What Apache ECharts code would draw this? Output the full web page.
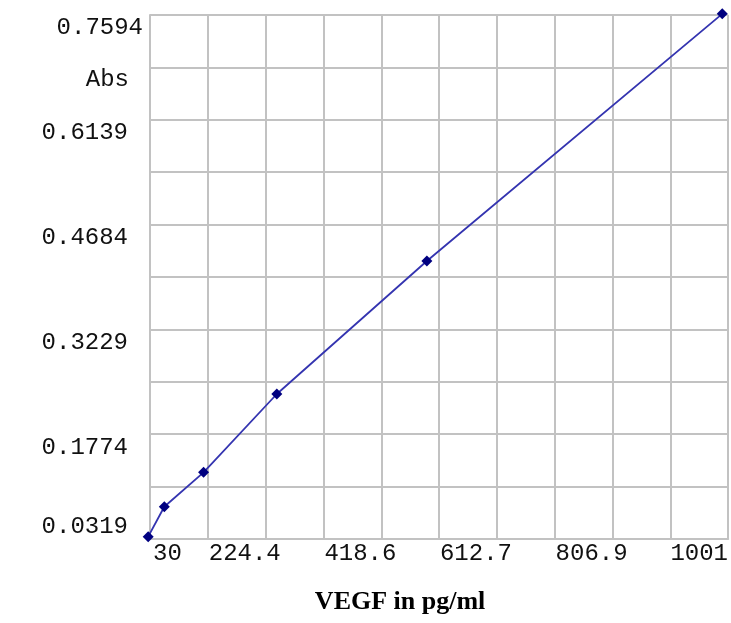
<!DOCTYPE html>
<html>
<head>
<meta charset="utf-8">
<script src="https://cdn.jsdelivr.net/npm/echarts@6/dist/echarts.min.js"></script>
<style>
html,body{margin:0;padding:0;background:#fff;}
#chart{width:731px;height:623px;}
</style>
</head>
<body>
<div id="chart"></div>
<script>
// Data
const concentrations = [27, 54, 120, 243, 495, 991];
const absorbances = [0.0351, 0.0767, 0.1245, 0.2332, 0.4179, 0.7610];

const xTickValues = [30, 224.4, 418.6, 612.7, 806.9, 1001];
const xTickLabels = ['30', '224.4', '418.6', '612.7', '806.9', '1001'];
const xGridValues = [30, 127.1, 224.4, 321.5, 418.6, 515.7, 612.7, 709.8, 806.9, 903.9, 1001];

const yTickValues = [0.0319, 0.1774, 0.3229, 0.4684, 0.6139, 0.7594];
const yTickLabels = ['0.0319', '0.1774', '0.3229', '0.4684', '0.6139', '0.7594'];
const yGridValues = [0.0319, 0.10465, 0.1774, 0.25015, 0.3229, 0.39565, 0.4684, 0.54115, 0.6139, 0.68665, 0.7594];

const xName = 'VEGF in pg/ml';
const yName = 'Abs';

function nearestIndex(arr, v) {
  let best = 0;
  for (let i = 1; i < arr.length; i++) {
    if (Math.abs(arr[i] - v) < Math.abs(arr[best] - v)) best = i;
  }
  return best;
}

const monoFont = '"Liberation Mono", "DejaVu Sans Mono", monospace';
const gridColor = '#c2c2c2';
const labelColor = '#111111';

const chart = echarts.init(document.getElementById('chart'), null, {renderer: 'canvas'});
chart.setOption({
  animation: false,
  backgroundColor: '#ffffff',
  grid: {left: 150, right: 0, top: 15, bottom: 84, containLabel: false},
  xAxis: {
    type: 'value',
    min: 30,
    max: 1001,
    name: xName,
    nameLocation: 'middle',
    nameGap: 50,
    nameTextStyle: {
      fontFamily: '"Liberation Serif", "Times New Roman", serif',
      fontWeight: 'bold',
      fontSize: 26,
      color: '#000',
      padding: [0, 78, 0, 0]
    },
    axisLine: {show: true, lineStyle: {color: gridColor, width: 2}},
    axisTick: {show: false, customValues: xGridValues},
    splitLine: {show: true, lineStyle: {color: gridColor, width: 2}},
    axisLabel: {
      customValues: xTickValues,
      margin: 3,
      verticalAlign: 'top',
      fontFamily: monoFont,
      fontSize: 24,
      color: labelColor,
      formatter: function (v) {
        const i = nearestIndex(xTickValues, v);
        const style = i === 0 ? 'first' : (i === xTickValues.length - 1 ? 'last' : 'mid');
        return '{' + style + '|' + xTickLabels[i] + '}';
      },
      rich: {
        first: {fontFamily: monoFont, fontSize: 24, color: labelColor, padding: [0, 0, 0, 35]},
        mid: {fontFamily: monoFont, fontSize: 24, color: labelColor, padding: [0, 42, 0, 0]},
        last: {fontFamily: monoFont, fontSize: 24, color: labelColor, padding: [0, 58, 0, 0]}
      }
    }
  },
  yAxis: {
    type: 'value',
    min: 0.0319,
    max: 0.7594,
    name: yName,
    nameLocation: 'end',
    nameGap: -65,
    nameTextStyle: {
      fontFamily: monoFont,
      fontSize: 24,
      color: labelColor,
      align: 'right',
      verticalAlign: 'middle',
      padding: [0, 21, 0, 0]
    },
    axisLine: {show: true, lineStyle: {color: gridColor, width: 2}},
    axisTick: {show: false, customValues: yGridValues},
    splitLine: {show: true, lineStyle: {color: gridColor, width: 2}},
    axisLabel: {
      customValues: yTickValues,
      margin: 7,
      align: 'right',
      verticalAlign: 'middle',
      fontFamily: monoFont,
      fontSize: 24,
      color: labelColor,
      formatter: function (v) {
        const i = nearestIndex(yTickValues, v);
        const style = i === 0 ? 'bot' : (i === yTickValues.length - 1 ? 'top' : 'mid');
        return '{' + style + '|' + yTickLabels[i] + '}';
      },
      rich: {
        bot: {fontFamily: monoFont, fontSize: 24, color: labelColor, padding: [0, 15, 24, 0]},
        mid: {fontFamily: monoFont, fontSize: 24, color: labelColor, padding: [26, 15, 0, 0]},
        top: {fontFamily: monoFont, fontSize: 24, color: labelColor, padding: [26, 0, 0, 0]}
      }
    }
  },
  series: [{
    type: 'line',
    data: concentrations.map((c, i) => [c, absorbances[i]]),
    clip: false,
    symbol: 'diamond',
    symbolSize: 11,
    showSymbol: true,
    itemStyle: {color: '#000080'},
    lineStyle: {color: '#3434b0', width: 1.8}
  }]
});
</script>
</body>
</html>
